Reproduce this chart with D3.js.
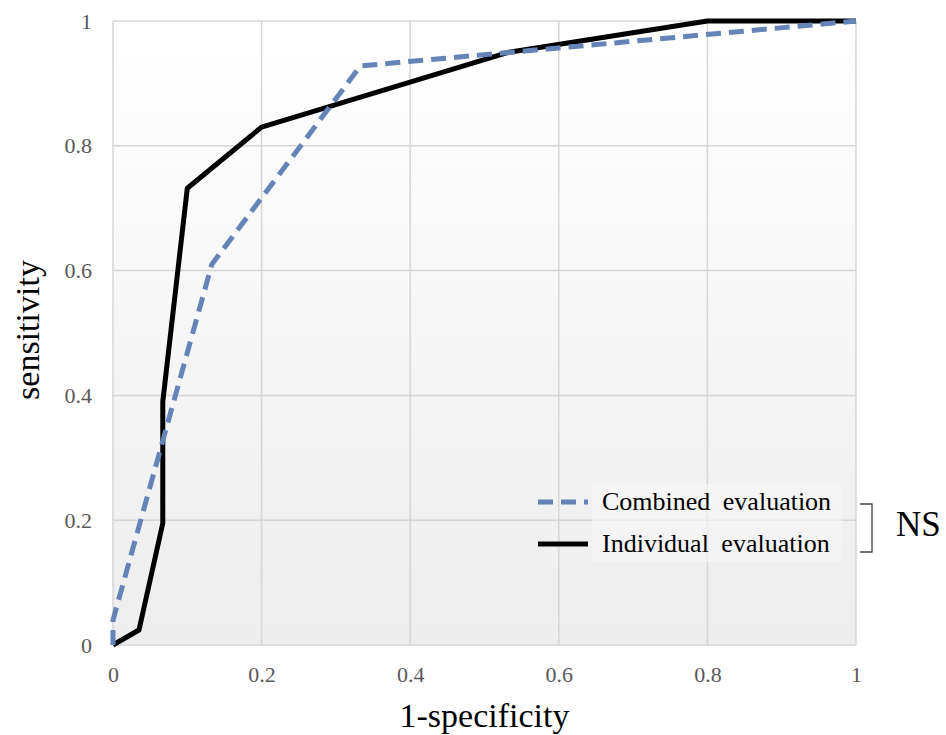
<!DOCTYPE html>
<html>
<head>
<meta charset="utf-8">
<script src="https://cdn.jsdelivr.net/npm/d3@7"></script>
<style>
  body { margin: 0; background: #fff; }
  svg { display: block; font-family: "Liberation Serif", "DejaVu Serif", serif; }
</style>
</head>
<body>
<div id="chart"></div>
<script>
// ROC points
const combinedX = [0, 0, 0.133, 0.333, 1];
const combinedY = [0, 0.04, 0.61, 0.928, 1];
const individualX = [0, 0.035, 0.067, 0.067, 0.1, 0.2, 0.533, 0.8, 1];
const individualY = [0, 0.024, 0.195, 0.39, 0.732, 0.83, 0.95, 1, 1];
const tickValues = [0, 0.2, 0.4, 0.6, 0.8, 1];
const seriesNames = ['Combined evaluation', 'Individual evaluation'];

const width = 946, height = 735;
const margin = { top: 21, right: 90, bottom: 90, left: 113 };

const svg = d3.select('#chart').append('svg')
  .attr('width', width)
  .attr('height', height);

const x = d3.scaleLinear().domain([0, 1]).range([margin.left, 856]);
const y = d3.scaleLinear().domain([0, 1]).range([645, margin.top]);

// plot background gradient
const grad = svg.append('defs').append('linearGradient')
  .attr('id', 'bg')
  .attr('x1', 0).attr('y1', 0).attr('x2', 0).attr('y2', 1);
grad.append('stop').attr('offset', '0%').attr('stop-color', '#ffffff');
grad.append('stop').attr('offset', '100%').attr('stop-color', '#ededed');

svg.append('rect')
  .attr('x', x(0)).attr('y', y(1))
  .attr('width', x(1) - x(0)).attr('height', y(0) - y(1))
  .attr('fill', 'url(#bg)');

// grid
const grid = svg.append('g').attr('stroke', '#d6d6d6').attr('stroke-width', 1.5);
grid.selectAll('.vx').data(tickValues).enter().append('line')
  .attr('x1', d => x(d)).attr('x2', d => x(d))
  .attr('y1', y(0)).attr('y2', y(1));
grid.selectAll('.hy').data(tickValues).enter().append('line')
  .attr('x1', x(0)).attr('x2', x(1))
  .attr('y1', d => y(d)).attr('y2', d => y(d));

// axes (labels only, Excel style)
const fmt = d => d === 0 || d === 1 ? String(d) : d3.format('.1f')(d);
const xAxis = svg.append('g')
  .attr('transform', `translate(0,${y(0)})`)
  .call(d3.axisBottom(x).tickValues(tickValues).tickFormat(fmt).tickSize(0).tickPadding(22));
const yAxis = svg.append('g')
  .attr('transform', `translate(${x(0)},0)`)
  .call(d3.axisLeft(y).tickValues(tickValues).tickFormat(fmt).tickSize(0).tickPadding(21));
[xAxis, yAxis].forEach(a => {
  a.select('.domain').remove();
  a.selectAll('text')
    .attr('fill', '#595959')
    .style('font-family', '"Liberation Serif", serif')
    .style('font-size', '22px');
});
xAxis.selectAll('text').attr('dy', null).attr('y', 37);

// lines
const line = d3.line().x(d => x(d[0])).y(d => y(d[1]));
const combined = d3.zip(combinedX, combinedY);
const individual = d3.zip(individualX, individualY);

svg.append('path')
  .datum(individual)
  .attr('d', line)
  .attr('fill', 'none')
  .attr('stroke', '#000')
  .attr('stroke-width', 5)
  .attr('stroke-linejoin', 'round');

svg.append('path')
  .datum(combined)
  .attr('d', line)
  .attr('fill', 'none')
  .attr('stroke', '#6683b8')
  .attr('stroke-width', 5)
  .attr('stroke-dasharray', '15,8');

// axis titles
svg.append('text')
  .attr('x', (x(0) + x(1)) / 2)
  .attr('y', 727)
  .attr('text-anchor', 'middle')
  .style('font-size', '34px')
  .text('1-specificity');

svg.append('text')
  .attr('transform', `translate(39,330) rotate(-90)`)
  .attr('text-anchor', 'middle')
  .style('font-size', '34px')
  .text('sensitivity');

// legend
const legend = svg.append('g');
legend.append('rect')
  .attr('x', 592).attr('y', 484)
  .attr('width', 250).attr('height', 78)
  .attr('fill', '#f6f6f6').attr('opacity', 0.6);

const styles = [
  { stroke: '#6683b8', dash: '15,8' },
  { stroke: '#000', dash: null }
];
seriesNames.forEach((name, i) => {
  const ly = 502 + i * 42;
  legend.append('line')
    .attr('x1', 538).attr('x2', 588)
    .attr('y1', ly).attr('y2', ly)
    .attr('stroke', styles[i].stroke)
    .attr('stroke-width', 5)
    .attr('stroke-dasharray', styles[i].dash);
  legend.append('text')
    .attr('x', 602).attr('y', ly + 8)
    .style('font-size', '26px')
    .style('word-spacing', '6px')
    .text(name);
});

// NS bracket
svg.append('path')
  .attr('d', 'M860,504 H872 V552 H860')
  .attr('fill', 'none')
  .attr('stroke', '#444')
  .attr('stroke-width', 1.3);
svg.append('text')
  .attr('x', 896).attr('y', 536)
  .style('font-size', '35px')
  .text('NS');
</script>
</body>
</html>
